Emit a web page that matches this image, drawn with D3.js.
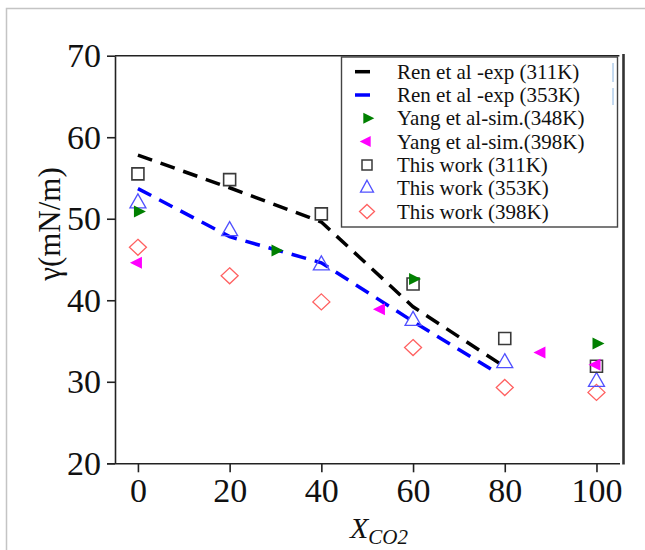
<!DOCTYPE html>
<html>
<head>
<meta charset="utf-8">
<script src="https://cdn.jsdelivr.net/npm/d3@7/dist/d3.min.js"></script>
<style>
  html, body { margin: 0; padding: 0; background: #fff; }
  svg { display: block; }
  text { font-family: "Liberation Serif", "Times New Roman", serif; fill: #111; }
</style>
</head>
<body>
<svg id="chart" width="645" height="550"></svg>
<script>
// Surface tension vs CO2 mole fraction
const xTicks = [0, 20, 40, 60, 80, 100];
const yTicks = [20, 30, 40, 50, 60, 70];

// Ren et al. experimental curves
const renExp311 = [[0, 57.8], [20, 53.8], [40, 49.6], [60, 39.2], [79, 32.2]];
const renExp353 = [[0, 53.7], [20, 47.8], [40, 44.6], [60, 37.4], [78, 31.2]];

// Yang et al. simulations
const yangSim348 = [[0, 50.9], [30, 46.1], [60, 42.6], [100, 34.7]];
const yangSim398 = [[0, 44.6], [53, 38.9], [88, 33.6], [100, 32.1]];

// This work
const thisWork311 = [[0, 55.5], [20, 54.8], [40, 50.6], [60, 42.0], [80, 35.3], [100, 31.9]];
const thisWork353 = [[0, 51.9], [20, 48.5], [40, 44.3], [60, 37.5], [80, 32.3], [100, 30.0]];
const thisWork398 = [[0, 46.5], [20, 43.0], [40, 39.8], [60, 34.2], [80, 29.3], [100, 28.7]];

const legendLabels = [
  "Ren et al -exp (311K)",
  "Ren et al -exp (353K)",
  "Yang et al-sim.(348K)",
  "Yang et al-sim.(398K)",
  "This work (311K)",
  "This work (353K)",
  "This work (398K)"
];

const svg = d3.select("#chart");

// outer picture frame
svg.append("path")
  .attr("d", "M6.5,550 V8.5 H645")
  .attr("fill", "none").attr("stroke", "#c4c4c4").attr("stroke-width", 1.5);

const x = d3.scaleLinear().domain([-5, 105]).range([115, 619.4]);
const y = d3.scaleLinear().domain([20, 70]).range([463.3, 55.7]);

// plot frame: top and right edges
svg.append("line").attr("x1", 115).attr("x2", 619.4).attr("y1", y(70)).attr("y2", y(70))
  .attr("stroke", "#222").attr("stroke-width", 1.6);
svg.append("line").attr("x1", 623.5).attr("x2", 623.5).attr("y1", 54).attr("y2", 464.5)
  .attr("stroke", "#333").attr("stroke-width", 2.6);

// axes
const xAxis = d3.axisBottom(x).tickValues(xTicks).tickSize(9).tickPadding(6).tickSizeOuter(0);
const gx = svg.append("g").attr("transform", `translate(0,${y(20)})`).call(xAxis);
gx.select(".domain").attr("d", `M107,0.5H620`).attr("stroke", "#222").attr("stroke-width", 1.6);
gx.selectAll(".tick line").attr("stroke", "#222").attr("stroke-width", 1.6);
gx.selectAll(".tick text").attr("font-size", 34).attr("font-family", "Liberation Serif").attr("fill", "#111");

const yAxis = d3.axisLeft(y).tickValues(yTicks).tickSize(8).tickPadding(6).tickSizeOuter(0);
const gy = svg.append("g").attr("transform", `translate(115,0)`).call(yAxis);
gy.select(".domain").attr("stroke", "#222").attr("stroke-width", 1.6);
gy.selectAll(".tick line").attr("stroke", "#222").attr("stroke-width", 1.6);
gy.selectAll(".tick text").attr("font-size", 34).attr("font-family", "Liberation Serif").attr("fill", "#111");

// axis titles
svg.append("text")
  .attr("transform", `translate(60,${224}) rotate(-90)`)
  .attr("text-anchor", "middle")
  .attr("font-size", 31)
  .text("γ(mN/m)");

const xt = svg.append("text").attr("x", 350).attr("y", 538).attr("font-style", "italic").attr("font-size", 30);
xt.append("tspan").text("X");
xt.append("tspan").attr("font-size", 21).attr("dy", 6).text("CO2");

// curves
const line = d3.line().x(d => x(d[0])).y(d => y(d[1]));
svg.append("path").datum(renExp311).attr("d", line)
  .attr("fill", "none").attr("stroke", "#000").attr("stroke-width", 3.5).attr("stroke-dasharray", "15,9");
svg.append("path").datum(renExp353).attr("d", line)
  .attr("fill", "none").attr("stroke", "#0000ff").attr("stroke-width", 3.5).attr("stroke-dasharray", "15,9");

// marker shapes
function triRight(w, h) { return `M${-w/3},${-h/2}L${2*w/3},0L${-w/3},${h/2}Z`; }
function triLeft(w, h) { return `M${w/3},${-h/2}L${-2*w/3},0L${w/3},${h/2}Z`; }
function triUp(w, h) { return `M0,${-2*h/3}L${w/2},${h/3}L${-w/2},${h/3}Z`; }
function square(s) { return `M${-s/2},${-s/2}h${s}v${s}h${-s}Z`; }
function diamond(w, h) { return `M0,${-h/2}L${w/2},0L0,${h/2}L${-w/2},0Z`; }

const series = [
  { data: thisWork398, d: diamond(17, 16), fill: "none", stroke: "#ff6060", sw: 1.3 },
  { data: thisWork353, d: triUp(16, 14), fill: "none", stroke: "#5050ff", sw: 1.3 },
  { data: thisWork311, d: square(12), fill: "none", stroke: "#3a3a3a", sw: 1.6 },
  { data: yangSim348, d: triRight(12, 12), fill: "#008000", stroke: "none", sw: 0 },
  { data: yangSim398, d: triLeft(12, 12), fill: "#ff00ff", stroke: "none", sw: 0 }
];
series.forEach(s => {
  svg.append("g").selectAll("path").data(s.data).join("path")
    .attr("transform", d => `translate(${x(d[0])},${y(d[1])})`)
    .attr("d", s.d)
    .attr("fill", s.fill).attr("stroke", s.stroke).attr("stroke-width", s.sw);
});

// legend
const lg = svg.append("g");
lg.append("rect").attr("x", 341.5).attr("y", 57).attr("width", 276).attr("height", 170)
  .attr("fill", "#fff").attr("stroke", "#444").attr("stroke-width", 1.4);
const rowY = i => 71.7 + i * 23.3;
const symX = 367;
lg.append("line").attr("x1", 355).attr("x2", 370).attr("y1", rowY(0)).attr("y2", rowY(0))
  .attr("stroke", "#000").attr("stroke-width", 3.5);
lg.append("line").attr("x1", 355).attr("x2", 370).attr("y1", rowY(1)).attr("y2", rowY(1))
  .attr("stroke", "#0000ff").attr("stroke-width", 3.5);
const legMarks = [
  { i: 2, d: triRight(11, 11), fill: "#008000", stroke: "none", sw: 0 },
  { i: 3, d: triLeft(11, 11), fill: "#ff00ff", stroke: "none", sw: 0 },
  { i: 4, d: square(10), fill: "none", stroke: "#3a3a3a", sw: 1.5 },
  { i: 5, d: triUp(13, 12), fill: "none", stroke: "#5050ff", sw: 1.3 },
  { i: 6, d: diamond(15, 14), fill: "none", stroke: "#ff6060", sw: 1.3 }
];
legMarks.forEach(m => {
  lg.append("path").attr("transform", `translate(${symX},${rowY(m.i)})`).attr("d", m.d)
    .attr("fill", m.fill).attr("stroke", m.stroke).attr("stroke-width", m.sw);
});
lg.selectAll("text.lab").data(legendLabels).join("text")
  .attr("class", "lab")
  .attr("x", 397).attr("y", (d, i) => rowY(i) + 7)
  .attr("font-size", 21)
  .text(d => d);
// thin blue ticks at the legend's right edge
[[63, 82], [88, 105]].forEach(r => {
  lg.append("line").attr("x1", 613).attr("x2", 613).attr("y1", r[0]).attr("y2", r[1])
    .attr("stroke", "#8ab4e0").attr("stroke-width", 1);
});
</script>
</body>
</html>
